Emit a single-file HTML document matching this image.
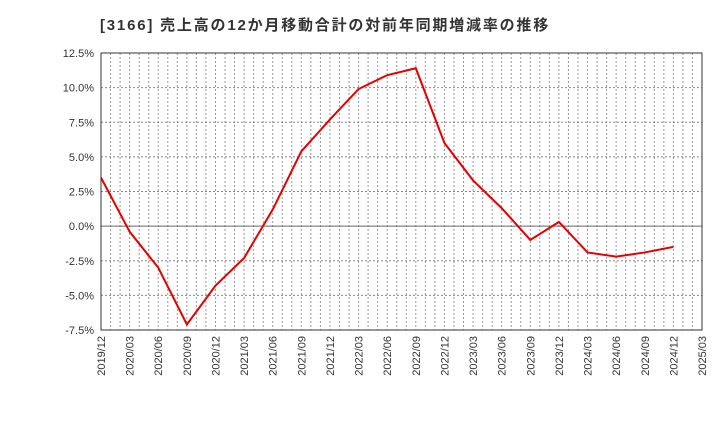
<!DOCTYPE html>
<html><head><meta charset="utf-8"><style>
body{margin:0;background:#fff;font-family:"Liberation Sans","Noto Sans CJK JP",sans-serif;}
</style></head><body>
<svg width="720" height="440" xmlns="http://www.w3.org/2000/svg" font-family="Liberation Sans, Noto Sans CJK JP, sans-serif">
<text x="100" y="30" font-size="15" letter-spacing="1.8" font-weight="bold" fill="#333">[3166]  売上高の12か月移動合計の対前年同期増減率の推移</text>
<g id="grid"></g><g id="axes"></g><g id="series"></g>
</svg>
<script>
const categories=["2019/12","2020/03","2020/06","2020/09","2020/12","2021/03","2021/06","2021/09","2021/12","2022/03","2022/06","2022/09","2022/12","2023/03","2023/06","2023/09","2023/12","2024/03","2024/06","2024/09","2024/12"];
const values=[3.5,-0.4,-3.0,-7.1,-4.3,-2.3,1.2,5.4,7.7,9.9,10.9,11.4,6.0,3.3,1.3,-1.0,0.3,-1.9,-2.2,-1.9,-1.5];
const xTickLabels=["2019/12","2020/03","2020/06","2020/09","2020/12","2021/03","2021/06","2021/09","2021/12","2022/03","2022/06","2022/09","2022/12","2023/03","2023/06","2023/09","2023/12","2024/03","2024/06","2024/09","2024/12","2025/03"];
const yTicks=[12.5,10,7.5,5,2.5,0,-2.5,-5,-7.5];
const NS="http://www.w3.org/2000/svg";
const L=101,R=702,T=53,B=330,yMin=-7.5,yMax=12.5;
const nq=xTickLabels.length-1;
const xs=i=>L+(R-L)*i/nq;
const ys=v=>B-(v-yMin)/(yMax-yMin)*(B-T);
function mk(tag,at,parent){const e=document.createElementNS(NS,tag);for(const k in at)e.setAttribute(k,at[k]);parent.appendChild(e);return e;}
const grid=document.getElementById('grid'),axes=document.getElementById('axes'),ser=document.getElementById('series');
for(let m=1;m<nq*3;m++){const x=L+(R-L)*m/(nq*3);
const l=mk('line',{x1:x,x2:x,y1:T,y2:B,stroke:'#999','stroke-dasharray':'2,2','stroke-width':1},grid);

}
yTicks.forEach(v=>{const y=ys(v);
const l=mk('line',{x1:L,x2:R,y1:y,y2:y,stroke:v===0?'#666':'#888','stroke-dasharray':v===0?'none':'2,2','stroke-width':1},grid);


const t=mk('text',{x:L-7,y:y+4,'text-anchor':'end','font-size':11,fill:'#333'},axes);
t.textContent=v.toFixed(1)+'%';

});
xTickLabels.forEach((s,i)=>{const x=xs(i);
const t=mk('text',{transform:`translate(${x+4},${B+6}) rotate(-90)`,'text-anchor':'end','font-size':11,fill:'#333'},axes);
t.textContent=s;

});
const fr=mk('rect',{x:L,y:T,width:R-L,height:B-T,fill:'none',stroke:'#333','stroke-width':1},axes);


const pts=values.map((v,i)=>xs(i)+','+ys(v)).join(' ');
const pl=mk('polyline',{points:pts,fill:'none',stroke:'#e60000','stroke-width':2},ser);


</script>
</body></html>
